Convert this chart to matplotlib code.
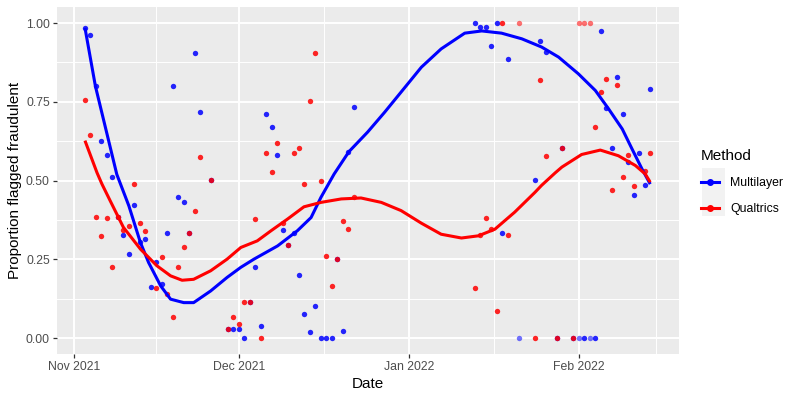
import numpy as np
import matplotlib
matplotlib.use("Agg")
import matplotlib.pyplot as plt
import matplotlib.dates as mdates
from matplotlib.lines import Line2D
from matplotlib.patches import Rectangle
from matplotlib.ticker import FixedLocator, FuncFormatter

plt.rcParams['font.family'] = ['Liberation Sans', 'DejaVu Sans']

# ---- data ----
ml_dates = ["2021-11-03", "2021-11-04", "2021-11-05", "2021-11-06", "2021-11-07", "2021-11-08",
            "2021-11-09", "2021-11-10", "2021-11-11", "2021-11-12", "2021-11-13", "2021-11-14",
            "2021-11-15", "2021-11-16", "2021-11-17", "2021-11-18", "2021-11-19", "2021-11-20",
            "2021-11-21", "2021-11-22", "2021-11-23", "2021-11-24", "2021-11-26", "2021-11-29",
            "2021-11-30",
            "2021-12-01", "2021-12-02", "2021-12-03", "2021-12-04", "2021-12-05", "2021-12-06",
            "2021-12-07", "2021-12-08", "2021-12-09", "2021-12-10", "2021-12-11", "2021-12-12",
            "2021-12-13", "2021-12-14", "2021-12-15", "2021-12-16", "2021-12-17", "2021-12-18",
            "2021-12-19", "2021-12-20", "2021-12-21", "2021-12-22",
            "2022-01-13", "2022-01-14", "2022-01-15", "2022-01-16", "2022-01-17", "2022-01-18",
            "2022-01-19", "2022-01-21", "2022-01-24", "2022-01-25", "2022-01-26", "2022-01-28",
            "2022-01-29", "2022-01-31",
            "2022-02-01", "2022-02-02", "2022-02-03", "2022-02-04", "2022-02-05", "2022-02-06",
            "2022-02-07", "2022-02-08", "2022-02-09", "2022-02-10", "2022-02-11", "2022-02-12",
            "2022-02-13", "2022-02-14"]
ml_vals = [0.985, 0.962, 0.80, 0.627, 0.58, 0.51, 0.385, 0.328, 0.267, 0.424, 0.305, 0.316,
           0.163, 0.241, 0.171, 0.335, 0.80, 0.447, 0.432, 0.335, 0.905, 0.717, 0.502, 0.028,
           0.029,
           0.029, 0.0, 0.115, 0.227, 0.039, 0.712, 0.67, 0.58, 0.343, 0.296, 0.335, 0.201,
           0.076, 0.021, 0.102, 0.0, 0.0, 0.0, 0.251, 0.023, 0.592, 0.733,
           1.0, 0.987, 0.987, 0.926, 1.0, 0.335, 0.886, 0.0, 0.502, 0.943, 0.908, 0.0,
           0.604, 0.0,
           0.0, 0.0, 0.0, 0.0, 0.976, 0.731, 0.604, 0.828, 0.712, 0.559, 0.453, 0.587,
           0.487, 0.79]

q_dates = ["2021-11-03", "2021-11-04", "2021-11-05", "2021-11-06", "2021-11-07", "2021-11-08",
           "2021-11-09", "2021-11-10", "2021-11-11", "2021-11-12", "2021-11-13", "2021-11-14",
           "2021-11-16", "2021-11-17", "2021-11-18", "2021-11-19", "2021-11-20", "2021-11-21",
           "2021-11-22", "2021-11-23", "2021-11-24", "2021-11-26", "2021-11-29", "2021-11-30",
           "2021-12-01", "2021-12-02", "2021-12-03", "2021-12-04", "2021-12-05", "2021-12-06",
           "2021-12-07", "2021-12-08", "2021-12-09", "2021-12-10", "2021-12-11", "2021-12-12",
           "2021-12-13", "2021-12-14", "2021-12-15", "2021-12-16", "2021-12-17", "2021-12-18",
           "2021-12-19", "2021-12-20", "2021-12-21", "2021-12-22",
           "2022-01-13", "2022-01-14", "2022-01-15", "2022-01-16", "2022-01-17", "2022-01-18",
           "2022-01-19", "2022-01-21", "2022-01-24", "2022-01-25", "2022-01-26", "2022-01-28",
           "2022-01-29", "2022-01-31",
           "2022-02-01", "2022-02-02", "2022-02-03", "2022-02-04", "2022-02-05", "2022-02-06",
           "2022-02-07", "2022-02-08", "2022-02-09", "2022-02-10", "2022-02-11", "2022-02-13",
           "2022-02-14"]
q_vals = [0.756, 0.646, 0.385, 0.324, 0.383, 0.225, 0.385, 0.345, 0.355, 0.49, 0.366, 0.339,
          0.16, 0.258, 0.14, 0.067, 0.225, 0.288, 0.335, 0.403, 0.574, 0.502, 0.028, 0.068,
          0.044, 0.115, 0.115, 0.377, 0.0, 0.587, 0.527, 0.619, 0.366, 0.296, 0.587, 0.604,
          0.49, 0.754, 0.905, 0.50, 0.262, 0.167, 0.251, 0.373, 0.347, 0.447,
          0.159, 0.328, 0.383, 0.346, 0.087, 1.0, 0.326, 1.0, 0.0, 0.818, 0.579, 0.0,
          0.604, 0.0,
          1.0, 1.0, 1.0, 0.67, 0.782, 0.822, 0.47, 0.805, 0.513, 0.582, 0.483, 0.532,
          0.589]

# dates with a single response (drawn fainter in the reference)
ml_single = ["2022-01-21", "2022-02-01", "2022-02-03"]
q_single = ["2022-01-21", "2022-02-01", "2022-02-02", "2022-02-03"]

# loess curves (days since 1 Nov 2021, value)
ml_smooth_day = [2.0, 3.9, 7.8, 10.0, 12.1, 13.6, 15.8, 17.6, 20.0, 21.8, 24.9, 27.9, 30.4,
                 32.8, 37.1, 40.7, 43.2, 45.0, 47.4, 50.1, 53.5, 56.6, 59.6, 63.3, 66.9,
                 71.2, 74.3, 77.9, 81.6, 85.2, 88.3, 91.9, 95.0, 97.4, 99.9, 101.7, 103.5,
                 105.0]
ml_smooth_val = [0.985, 0.80, 0.52, 0.42, 0.304, 0.24, 0.166, 0.124, 0.113, 0.113, 0.15,
                 0.193, 0.225, 0.251, 0.293, 0.341, 0.383, 0.447, 0.521, 0.592, 0.654, 0.717,
                 0.781, 0.86, 0.918, 0.968, 0.975, 0.968, 0.95, 0.924, 0.892, 0.839, 0.786,
                 0.728, 0.664, 0.60, 0.537, 0.489]
q_smooth_day = [2.0, 4.2, 5.1, 6.6, 9.0, 12.1, 15.1, 17.6, 19.7, 21.8, 24.9, 27.9, 30.4,
                33.4, 35.9, 38.9, 41.9, 45.0, 48.7, 52.3, 56.0, 59.6, 63.3, 66.9, 70.6,
                73.7, 76.7, 80.3, 84.0, 85.2, 87.7, 88.9, 92.5, 95.9, 99.2, 102.3, 104.1,
                105.0]
q_smooth_val = [0.627, 0.525, 0.489, 0.436, 0.352, 0.283, 0.23, 0.198, 0.184, 0.187, 0.214,
                0.251, 0.288, 0.309, 0.341, 0.378, 0.417, 0.431, 0.442, 0.445, 0.431, 0.405,
                0.365, 0.33, 0.318, 0.325, 0.346, 0.40, 0.463, 0.485, 0.525, 0.543, 0.583,
                0.597, 0.579, 0.548, 0.521, 0.495]

methods = ["Multilayer", "Qualtrics"]
colors = ["#0000FF", "#FF0000"]
month_starts = ["2021-10-01", "2021-11-01", "2021-12-01", "2022-01-01", "2022-02-01", "2022-03-01"]

# ---- plot ----
start = np.datetime64("2021-11-01T00:00")


def from_days(days):
    return start + (np.array(days) * 24 * 60).round().astype("timedelta64[m]")


fig = plt.figure(figsize=(8, 4), dpi=100)
ax = fig.add_axes([56.7 / 800, 1 - 354 / 400, (678.5 - 56.7) / 800, (354 - 7.3) / 400])
ax.set_facecolor("#EBEBEB")

series = [(ml_dates, ml_vals, ml_single), (q_dates, q_vals, q_single)]
for (d, v, single), col in zip(series, colors):
    d = np.array(d, dtype="datetime64[D]")
    v = np.array(v)
    faint = np.isin(d, np.array(single, dtype="datetime64[D]"))
    ax.scatter(d[~faint], v[~faint], s=15, color=col, alpha=0.85, linewidths=0, zorder=3)
    ax.scatter(d[faint], v[faint], s=15, color=col, alpha=0.55, linewidths=0, zorder=3)

ax.plot(from_days(ml_smooth_day), ml_smooth_val, color=colors[0], lw=2.2, zorder=4,
        solid_capstyle="butt", solid_joinstyle="round")
ax.plot(from_days(q_smooth_day), q_smooth_val, color=colors[1], lw=2.2, zorder=5,
        solid_capstyle="butt", solid_joinstyle="round")

# ggplot-like 5% expansion
all_d = np.concatenate([np.array(ml_dates, dtype="datetime64[D]"),
                        np.array(q_dates, dtype="datetime64[D]")])
lo = mdates.date2num(all_d.min())
hi = mdates.date2num(all_d.max())
pad = (hi - lo) * 0.05
ax.set_xlim(lo - pad, hi + pad)
ax.set_ylim(-0.05, 1.05)

ms = mdates.date2num(np.array(month_starts, dtype="datetime64[D]"))
ax.xaxis.set_major_locator(FixedLocator(ms))
ax.xaxis.set_minor_locator(FixedLocator((ms[:-1] + ms[1:]) / 2))
ax.xaxis.set_major_formatter(mdates.DateFormatter("%b %Y"))
ax.yaxis.set_major_locator(FixedLocator([0, 0.25, 0.5, 0.75, 1.0]))
ax.yaxis.set_minor_locator(FixedLocator([0.125, 0.375, 0.625, 0.875]))
ax.yaxis.set_major_formatter(FuncFormatter(lambda y, p: "%.2f" % y))

ax.grid(which="major", color="white", lw=1.4, zorder=0)
ax.grid(which="minor", color="white", lw=0.7, zorder=0)
ax.set_axisbelow(True)
for s in ax.spines.values():
    s.set_visible(False)
ax.tick_params(which="major", length=3, width=0.9, color="#333333", labelcolor="#4D4D4D",
               labelsize=8.8, pad=2)
ax.tick_params(which="minor", length=0)

ax.set_xlabel("Date", fontsize=11, color="black", labelpad=3)
ax.set_ylabel("Proportion flagged fraudulent", fontsize=11, color="black", labelpad=3)

# legend
handles = [Line2D([], [], color=c, lw=2.2, marker="o", markersize=4) for c in colors]
fig.patches.append(Rectangle((701.7 / 800, 1 - 216 / 400), 23.3 / 800, 48 / 400,
                             transform=fig.transFigure, facecolor="#F2F2F2",
                             edgecolor="none", zorder=0))
fig.legend(handles, methods, title="Method", loc="upper left",
           bbox_to_anchor=(701 / 800, 1 - 149 / 400), frameon=False,
           fontsize=8.8, title_fontsize=11, handlelength=1.5, handletextpad=0.9,
           labelspacing=1.15, borderpad=0, borderaxespad=0, alignment="left")

fig.savefig("out.png", dpi=100)
